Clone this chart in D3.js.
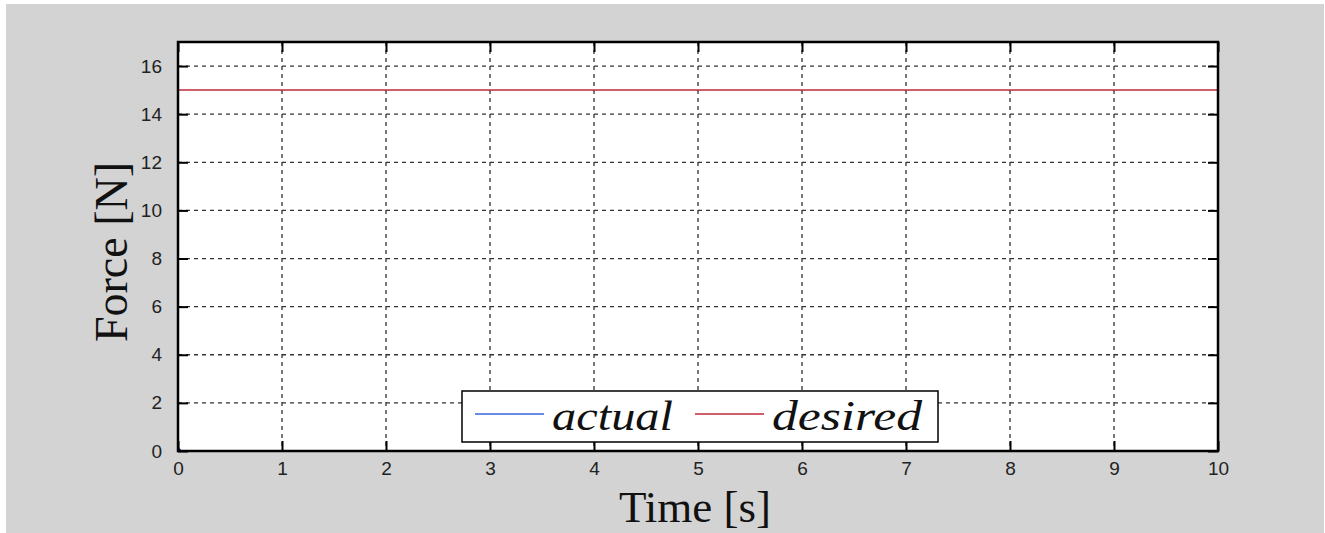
<!DOCTYPE html>
<html>
<head>
<meta charset="utf-8">
<script src="https://cdn.jsdelivr.net/npm/d3@7"></script>
<style>
  body { margin: 0; background: #fff; }
  svg { display: block; }
</style>
</head>
<body>
<svg width="1325" height="533"></svg>
<script>
// Datos: fuerza medida y deseada en función del tiempo
const actualTime = [0, 0.02];
const actualForce = [0, 0.1];
const desiredTime = [0, 10];
const desiredForce = [15, 15];
const xTicks = [0, 1, 2, 3, 4, 5, 6, 7, 8, 9, 10];
const yTicks = [0, 2, 4, 6, 8, 10, 12, 14, 16];
const seriesNames = ["actual", "desired"];
const seriesColors = ["#3a66dd", "#c2283a"];

const svg = d3.select("svg");

// fondo gris de la figura
svg.append("rect")
  .attr("x", 6).attr("y", 4)
  .attr("width", 1318).attr("height", 529)
  .attr("fill", "#d3d3d3");

const margin = { top: 42, right: 107, bottom: 82, left: 178 };
const width = 1325 - margin.left - margin.right;
const height = 533 - margin.top - margin.bottom;

const g = svg.append("g")
  .attr("transform", `translate(${margin.left},${margin.top})`);

const x = d3.scaleLinear().domain([0, 10]).range([0, width]);
const y = d3.scaleLinear().domain([0, 17]).range([height, 0]);

// área blanca
g.append("rect")
  .attr("width", width).attr("height", height)
  .attr("fill", "#fff");

// rejilla punteada
g.append("g")
  .selectAll("line")
  .data(xTicks.slice(1, -1))
  .join("line")
  .attr("x1", d => x(d)).attr("x2", d => x(d))
  .attr("y1", 0).attr("y2", height)
  .attr("stroke", "#333")
  .attr("stroke-width", 1.3)
  .attr("stroke-dasharray", "4,4");

g.append("g")
  .selectAll("line")
  .data(yTicks.slice(1))
  .join("line")
  .attr("x1", 0).attr("x2", width)
  .attr("y1", d => y(d)).attr("y2", d => y(d))
  .attr("stroke", "#333")
  .attr("stroke-width", 1.3)
  .attr("stroke-dasharray", "4,4");

// líneas de datos
const line = d3.line().x(d => x(d[0])).y(d => y(d[1]));

g.append("path")
  .datum(desiredTime.map((t, i) => [t, desiredForce[i]]))
  .attr("d", line)
  .attr("fill", "none")
  .attr("stroke", seriesColors[1])
  .attr("stroke-width", 1.5);

g.append("path")
  .datum(actualTime.map((t, i) => [t, actualForce[i]]))
  .attr("d", line)
  .attr("fill", "none")
  .attr("stroke", seriesColors[0])
  .attr("stroke-width", 3);

// ejes (ticks hacia dentro, en los cuatro lados)
const tickLen = 10;
function styleAxis(sel) {
  sel.select(".domain").remove();
  sel.selectAll(".tick line").attr("stroke", "#000").attr("stroke-width", 2);
  sel.selectAll(".tick text")
    .attr("font-family", "Liberation Sans, Arial, sans-serif")
    .attr("font-size", 19)
    .attr("fill", "#222");
}

g.append("g")
  .attr("transform", `translate(0,${height})`)
  .call(d3.axisBottom(x).tickValues(xTicks).tickFormat(d3.format("d"))
    .tickSizeInner(-tickLen).tickSizeOuter(0).tickPadding(11))
  .call(styleAxis);

g.append("g")
  .call(d3.axisTop(x).tickValues(xTicks).tickSizeInner(-tickLen).tickSizeOuter(0).tickFormat(""))
  .call(styleAxis);

g.append("g")
  .call(d3.axisLeft(y).tickValues(yTicks).tickFormat(d3.format("d"))
    .tickSizeInner(-tickLen).tickSizeOuter(0).tickPadding(16))
  .call(styleAxis);

g.append("g")
  .attr("transform", `translate(${width},0)`)
  .call(d3.axisRight(y).tickValues(yTicks).tickSizeInner(-tickLen).tickSizeOuter(0).tickFormat(""))
  .call(styleAxis);

// marco
g.append("rect")
  .attr("width", width).attr("height", height)
  .attr("fill", "none")
  .attr("stroke", "#000")
  .attr("stroke-width", 2.5);

// etiquetas de ejes
svg.append("text")
  .attr("x", 695)
  .attr("y", 522)
  .attr("text-anchor", "middle")
  .attr("font-family", "Liberation Serif, Times New Roman, serif")
  .attr("font-size", 45)
  .attr("fill", "#111")
  .text("Time [s]");

svg.append("text")
  .attr("transform", "translate(127,252) rotate(-90)")
  .attr("text-anchor", "middle")
  .attr("font-family", "Liberation Serif, Times New Roman, serif")
  .attr("font-size", 46)
  .attr("fill", "#111")
  .text("Force [N]");

// leyenda
const legend = svg.append("g").attr("transform", "translate(462,391)");
legend.append("rect")
  .attr("width", 476).attr("height", 51)
  .attr("fill", "#fff")
  .attr("stroke", "#000")
  .attr("stroke-width", 1.5);

const legendX = [13, 233];
seriesNames.forEach((name, i) => {
  legend.append("line")
    .attr("x1", legendX[i]).attr("x2", legendX[i] + 69)
    .attr("y1", 23).attr("y2", 23)
    .attr("stroke", seriesColors[i])
    .attr("stroke-width", 1.5);
  legend.append("text")
    .attr("x", legendX[i] + 77)
    .attr("y", 39)
    .attr("font-family", "Liberation Serif, Times New Roman, serif")
    .attr("font-style", "italic")
    .attr("font-size", 42)
    .attr("textLength", i === 0 ? 121 : 150)
    .attr("lengthAdjust", "spacingAndGlyphs")
    .attr("fill", "#111")
    .text(name);
});
</script>
</body>
</html>
